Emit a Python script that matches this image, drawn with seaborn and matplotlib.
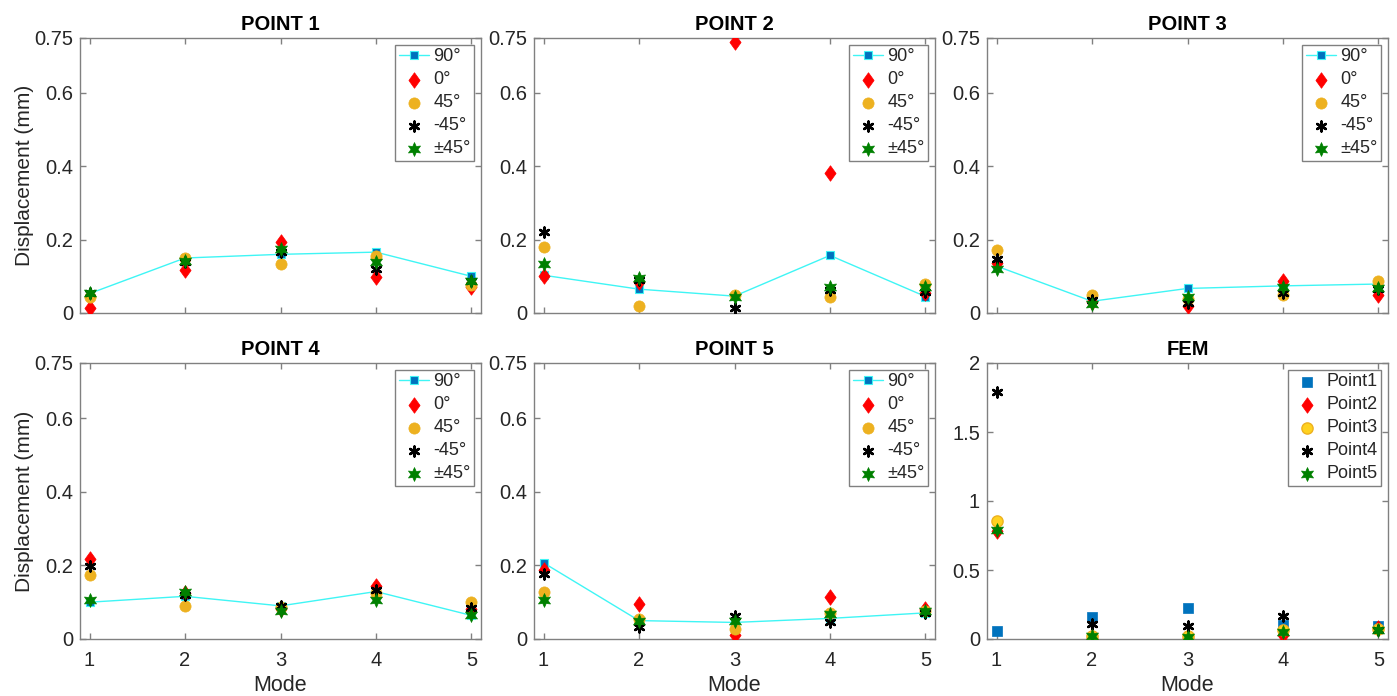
import matplotlib
matplotlib.use("Agg")
import matplotlib.pyplot as plt
import seaborn as sns
import numpy as np

modes = [1, 2, 3, 4, 5]
angle_labels = ["90°", "0°", "45°", "-45°", "±45°"]
fem_labels = ["Point1", "Point2", "Point3", "Point4", "Point5"]

# POINT 1
p1_90 = [0.053, 0.150, 0.160, 0.166, 0.100]
p1_0 = [0.015, 0.118, 0.193, 0.098, 0.070]
p1_45 = [0.045, 0.150, 0.133, 0.156, 0.077]
p1_m45 = [0.055, 0.139, 0.165, 0.120, 0.086]
p1_pm45 = [0.055, 0.141, 0.175, 0.138, 0.086]
# POINT 2
p2_90 = [0.103, 0.065, 0.046, 0.157, 0.045]
p2_0 = [0.100, 0.085, 0.740, 0.382, 0.055]
p2_45 = [0.179, 0.018, 0.050, 0.044, 0.080]
p2_m45 = [0.222, 0.089, 0.015, 0.064, 0.056]
p2_pm45 = [0.135, 0.095, 0.045, 0.071, 0.071]
# POINT 3
p3_90 = [0.128, 0.032, 0.067, 0.074, 0.079]
p3_0 = [0.136, 0.030, 0.018, 0.087, 0.048]
p3_45 = [0.172, 0.050, 0.037, 0.049, 0.086]
p3_m45 = [0.148, 0.035, 0.027, 0.055, 0.066]
p3_pm45 = [0.121, 0.024, 0.044, 0.071, 0.069]
# POINT 4
p4_90 = [0.100, 0.116, 0.090, 0.129, 0.064]
p4_0 = [0.217, 0.125, 0.082, 0.145, 0.082]
p4_45 = [0.175, 0.089, 0.086, 0.125, 0.100]
p4_m45 = [0.199, 0.120, 0.090, 0.132, 0.083]
p4_pm45 = [0.107, 0.127, 0.075, 0.107, 0.064]
# POINT 5
p5_90 = [0.207, 0.050, 0.045, 0.056, 0.071]
p5_0 = [0.188, 0.095, 0.012, 0.114, 0.082]
p5_45 = [0.128, 0.053, 0.028, 0.071, 0.075]
p5_m45 = [0.177, 0.033, 0.063, 0.045, 0.071]
p5_pm45 = [0.105, 0.050, 0.050, 0.069, 0.077]
# FEM
fem_p1 = [0.056, 0.160, 0.222, 0.104, 0.092]
fem_p2 = [0.780, 0.007, 0.007, 0.030, 0.080]
fem_p3 = [0.857, 0.024, 0.020, 0.068, 0.075]
fem_p4 = [1.790, 0.111, 0.092, 0.164, 0.068]
fem_p5 = [0.792, 0.020, 0.015, 0.050, 0.068]

panels = [
    ("POINT 1", [p1_90, p1_0, p1_45, p1_m45, p1_pm45]),
    ("POINT 2", [p2_90, p2_0, p2_45, p2_m45, p2_pm45]),
    ("POINT 3", [p3_90, p3_0, p3_45, p3_m45, p3_pm45]),
    ("POINT 4", [p4_90, p4_0, p4_45, p4_m45, p4_pm45]),
    ("POINT 5", [p5_90, p5_0, p5_45, p5_m45, p5_pm45]),
]
fem_series = [fem_p1, fem_p2, fem_p3, fem_p4, fem_p5]

sns.set_style("white")
plt.rcParams["font.family"] = ["Liberation Sans", "DejaVu Sans"]

BLUE = "#0072BD"
CYAN = "#3FF5F5"
RED = "#FF0000"
YEL = "#EDB120"
GRN = "#008000"
SPINE = "#808080"
TXT = "#262626"

DIAMOND = [(0, 1), (0.72, 0), (0, -1), (-0.72, 0), (0, 1)]

fig = plt.figure(figsize=(13.97, 6.96), dpi=100)

lefts = [80, 534, 987]
w_px = 401
rows = [(38, 313), (363, 639)]
W, H = 1397.0, 696.0

def make_ax(r, c):
    top, bot = rows[r]
    return fig.add_axes([lefts[c] / W, 1 - bot / H, w_px / W, (bot - top) / H])

def style_ax(ax, ylim, yticks, yticklabels, xlabel, ylabel, title):
    ax.set_xlim(0.9, 5.1)
    ax.set_ylim(*ylim)
    ax.set_yticks(yticks)
    ax.set_yticklabels(yticklabels)
    ax.set_xticks(modes)
    if xlabel:
        ax.set_xticklabels([str(m) for m in modes])
        ax.set_xlabel("Mode", fontsize=15.5, color=TXT, labelpad=3)
    else:
        ax.set_xticklabels([])
        ax.set_xlabel("")
    if ylabel:
        ax.set_ylabel("Displacement (mm)", fontsize=15, color=TXT, labelpad=0)
    else:
        ax.set_ylabel("")
    ax.set_title(title, fontsize=14.5, fontweight="bold", color="black", pad=6)
    for s in ax.spines.values():
        s.set_visible(True)
        s.set_color(SPINE)
        s.set_linewidth(1.0)
    ax.tick_params(direction="in", length=4, width=1, color=SPINE, labelcolor=TXT,
                   labelsize=14.5, top=True, right=True, bottom=True, left=True, pad=5)
    ax.tick_params(axis="x", pad=9)

def legend(ax):
    leg = ax.legend(loc="upper right", fontsize=13, frameon=True, fancybox=False,
                    edgecolor=SPINE, framealpha=1, borderaxespad=0.38,
                    labelspacing=0.33, handlelength=1.65, handletextpad=0.25,
                    borderpad=0.2)
    leg.get_frame().set_linewidth(1.0)
    for t in leg.get_texts():
        t.set_color(TXT)

for i, (title, series) in enumerate(panels):
    r, c = divmod(i, 3)
    ax = make_ax(r, c)
    s90, s0, s45, sm45, spm45 = series
    sns.lineplot(x=modes, y=s90, ax=ax, color=CYAN, linewidth=1.0, marker="s",
                 markersize=5.5, markerfacecolor=BLUE, markeredgecolor=CYAN,
                 markeredgewidth=0.8, label=angle_labels[0], errorbar=None,
                 sort=False, zorder=2)
    sns.scatterplot(x=modes, y=s0, ax=ax, marker=DIAMOND, s=125, color=RED,
                    edgecolor=RED, linewidth=0.5, label=angle_labels[1], zorder=3)
    sns.scatterplot(x=modes, y=s45, ax=ax, marker="o", s=65, color=YEL,
                    edgecolor=YEL, linewidth=0.5, label=angle_labels[2], zorder=4)
    sns.scatterplot(x=modes, y=sm45, ax=ax, marker=(6, 2, 0), s=50, color="black",
                    edgecolor="black", linewidth=1.8, label=angle_labels[3], zorder=5)
    sns.scatterplot(x=modes, y=spm45, ax=ax, marker=(6, 1, 0), s=100, color=GRN,
                    edgecolor=GRN, linewidth=0.5, label=angle_labels[4], zorder=6)
    style_ax(ax, (0, 0.75), [0, 0.2, 0.4, 0.6, 0.75], ["0", "0.2", "0.4", "0.6", "0.75"],
             xlabel=(r == 1), ylabel=(c == 0), title=title)
    legend(ax)

ax = make_ax(1, 2)
sns.scatterplot(x=modes, y=fem_p1, ax=ax, marker="s", s=48, color=BLUE,
                edgecolor=BLUE, linewidth=0.5, label=fem_labels[0], zorder=2)
sns.scatterplot(x=modes, y=fem_p2, ax=ax, marker=DIAMOND, s=125, color=RED,
                edgecolor=RED, linewidth=0.5, label=fem_labels[1], zorder=3)
sns.scatterplot(x=modes, y=fem_p3, ax=ax, marker="o", s=65, color="#FFD21F",
                edgecolor=YEL, linewidth=1.0, label=fem_labels[2], zorder=4)
sns.scatterplot(x=modes, y=fem_p4, ax=ax, marker=(6, 2, 0), s=50, color="black",
                edgecolor="black", linewidth=1.8, label=fem_labels[3], zorder=5)
sns.scatterplot(x=modes, y=fem_p5, ax=ax, marker=(6, 1, 0), s=100, color=GRN,
                edgecolor=GRN, linewidth=0.5, label=fem_labels[4], zorder=6)
style_ax(ax, (0, 2), [0, 0.5, 1, 1.5, 2], ["0", "0.5", "1", "1.5", "2"],
         xlabel=True, ylabel=False, title="FEM")
legend(ax)

fig.savefig("out.png", dpi=100)
